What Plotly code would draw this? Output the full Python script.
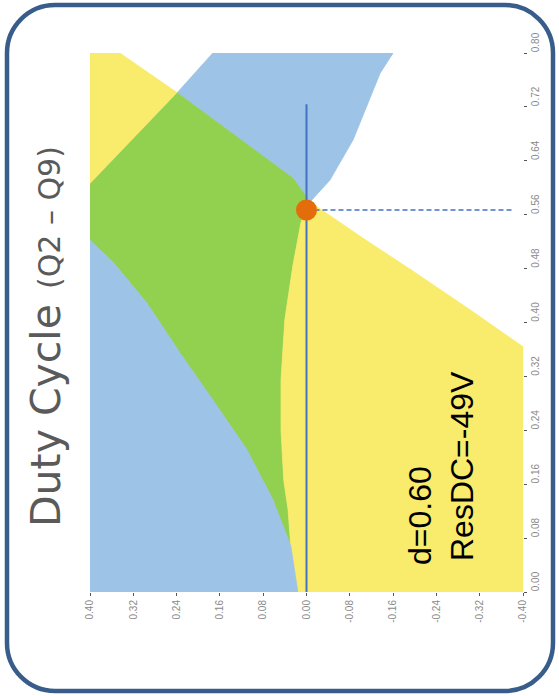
import plotly.graph_objects as go

W, H = 559, 696

# ---- axis ticks -------------------------------------------------------
x_ticks = [-0.40, -0.32, -0.24, -0.16, -0.08, 0.00, 0.08, 0.16, 0.24, 0.32, 0.40]
y_ticks = [0.00, 0.08, 0.16, 0.24, 0.32, 0.40, 0.48, 0.56, 0.64, 0.72, 0.80]
x_ticktext = ["%.2f" % abs(v) if abs(v) < 1e-9 else "%.2f" % v for v in x_ticks]
y_ticktext = ["%.2f" % v for v in y_ticks]

# ---- region boundaries (value v, duty cycle d) --------------------------
# upper-left edge of the blue region
l1_v = [0.173, 0.239, 0.400]
l1_d = [0.800, 0.741, 0.606]
# upper edge of the yellow region
l2_v = [0.345, 0.239, 0.025, -0.0065, -0.099, -0.197, -0.302, -0.400]
l2_d = [0.800, 0.741, 0.614, 0.579, 0.528, 0.476, 0.419, 0.364]
# right edge of the blue region
c3_v = [-0.160, -0.136, -0.086, -0.043, -0.0065, 0.010, 0.025, 0.040, 0.047, 0.047, 0.042, 0.034, 0.029, 0.016]
c3_d = [0.800, 0.770, 0.671, 0.611, 0.579, 0.549, 0.485, 0.404, 0.315, 0.240, 0.166, 0.122, 0.068, 0.000]
# lower-left edge of the yellow region
c4_v = [0.400, 0.358, 0.295, 0.234, 0.173, 0.110, 0.062, 0.029, 0.016]
c4_d = [0.522, 0.490, 0.429, 0.355, 0.285, 0.211, 0.137, 0.068, 0.000]

# operating point and guide lines
op_v = [0.0]
op_d = [0.567]
vline_v = [0.0, 0.0]
vline_d = [0.0, 0.724]
hdash_v = [0.0, -0.3815]
hdash_d = [0.567, 0.567]

YELLOW = "#F9EB6B"
BLUE = "#9DC3E6"
GREEN = "#92D050"

fig = go.Figure()


def region(v, d, color):
    fig.add_trace(go.Scatter(x=v, y=d, mode="lines", fill="toself", fillcolor=color,
                             line=dict(color=color, width=0.8), hoverinfo="skip"))


# yellow-only, top-left
region([0.400] + l2_v[0:2] + l1_v[1:], [0.800] + l2_d[0:2] + l1_d[1:], YELLOW)
# blue-only, top
region(c3_v[0:5] + l2_v[1:4][::-1] + l1_v[0:1], c3_d[0:5] + l2_d[1:4][::-1] + l1_d[0:1], BLUE)
# green (overlap)
region(l2_v[1:4] + c3_v[4:13] + c4_v[0:8][::-1] + l1_v[2:3],
       l2_d[1:4] + c3_d[4:13] + c4_d[0:8][::-1] + l1_d[2:3], GREEN)
# yellow-only, right
region(l2_v[3:] + [-0.400] + c3_v[4:][::-1], l2_d[3:] + [0.000] + c3_d[4:][::-1], YELLOW)
# blue-only, bottom-left
region(c4_v + [0.400], c4_d + [0.000], BLUE)

LINE_BLUE = "#4472C4"
fig.add_trace(go.Scatter(x=vline_v, y=vline_d, mode="lines",
                         line=dict(color=LINE_BLUE, width=2), hoverinfo="skip"))
fig.add_trace(go.Scatter(x=hdash_v, y=hdash_d, mode="lines",
                         line=dict(color=LINE_BLUE, width=1.5, dash="5px,3px"), hoverinfo="skip"))
fig.add_trace(go.Scatter(x=op_v, y=op_d, mode="markers",
                         marker=dict(color="#E46C0A", size=21, line=dict(width=0)), hoverinfo="skip"))

# ---- frame --------------------------------------------------------------
x0, x1, y0, y1, r = 7, 553, 5, 691, 48
k = 0.5523 * r


def P(x, y):
    return "%.5f,%.5f" % (x / W, 1 - y / H)


path = ("M " + P(x0 + r, y0) + " L " + P(x1 - r, y0) +
        " C " + P(x1 - r + k, y0) + " " + P(x1, y0 + r - k) + " " + P(x1, y0 + r) +
        " L " + P(x1, y1 - r) +
        " C " + P(x1, y1 - r + k) + " " + P(x1 - r + k, y1) + " " + P(x1 - r, y1) +
        " L " + P(x0 + r, y1) +
        " C " + P(x0 + r - k, y1) + " " + P(x0, y1 - r + k) + " " + P(x0, y1 - r) +
        " L " + P(x0, y0 + r) +
        " C " + P(x0, y0 + r - k) + " " + P(x0 + r - k, y0) + " " + P(x0 + r, y0) + " Z")

fig.add_shape(type="path", xref="paper", yref="paper", path=path,
              line=dict(color="#385D8A", width=4.5), layer="above")

# ---- annotations ------------------------------------------------------------
def ann(text, px, py, size, color, family):
    fig.add_annotation(text=text, x=px / W, y=1 - py / H, xref="paper", yref="paper",
                       showarrow=False, textangle=-90, xanchor="center", yanchor="middle",
                       font=dict(size=size, color=color, family=family))


ann("Duty Cycle", 46, 416, 41, "#5A5A5A", "DejaVu Sans")
ann("(Q2 – Q9)", 50, 218, 30, "#5A5A5A", "DejaVu Sans")
ann("d=0.60", 420, 516, 32, "#000000", "Liberation Sans")
ann("ResDC=-49V", 462, 466, 32, "#000000", "Liberation Sans")

tickfont = dict(size=10, color="#8A8A8A", family="Liberation Sans")
fig.update_layout(
    width=W, height=H, margin=dict(l=0, r=0, t=0, b=0, autoexpand=False),
    paper_bgcolor="white", plot_bgcolor="white", showlegend=False,
    xaxis=dict(domain=[90 / W, 523 / W], range=[0.4, -0.4], tickvals=x_ticks, ticktext=x_ticktext,
               tickangle=-90, ticks="outside", ticklen=3, tickcolor="#555555", tickwidth=1,
               showgrid=False, zeroline=False, showline=False, tickfont=tickfont, automargin=False),
    yaxis=dict(domain=[1 - 592 / H, 1 - 53 / H], range=[0, 0.8], side="right",
               tickvals=y_ticks, ticktext=y_ticktext, tickangle=-90, ticks="outside",
               ticklen=3, tickcolor="#555555", tickwidth=1, ticklabelshift=-9,
               showgrid=False, zeroline=False, showline=False, tickfont=tickfont, automargin=False),
)

fig.write_html("out.html", config={"displayModeBar": False},
               post_script="document.body.style.margin='0';document.body.style.overflow='hidden';")
